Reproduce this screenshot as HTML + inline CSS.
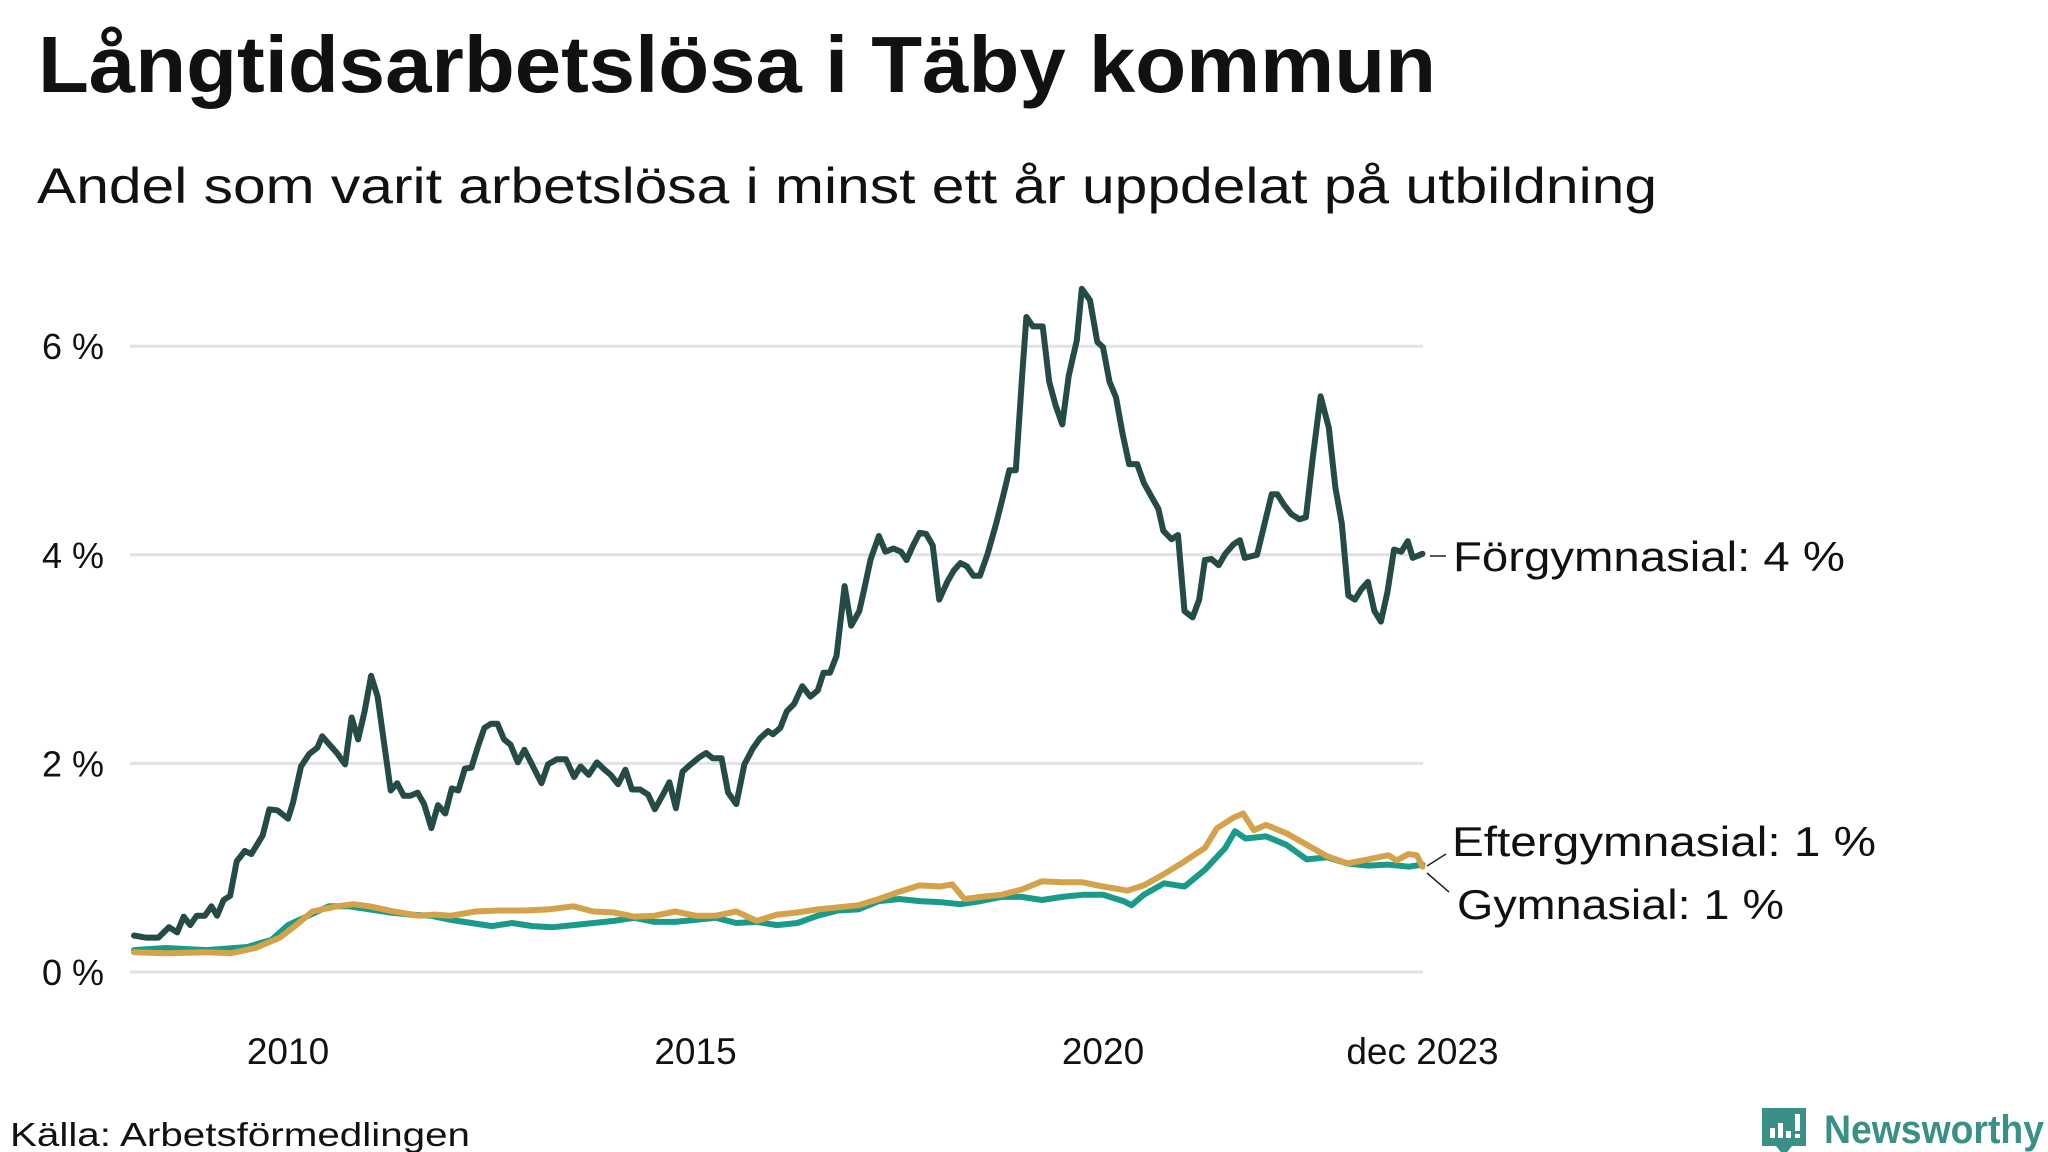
<!DOCTYPE html>
<html><head><meta charset="utf-8"><style>
html,body{margin:0;padding:0;background:#fff;}
svg{display:block;font-family:"Liberation Sans","DejaVu Sans",sans-serif;}
</style></head><body>
<svg id="chart" width="2048" height="1152" viewBox="0 0 2048 1152">
<text x="38" y="92" font-size="80" font-weight="bold" fill="#111" textLength="1398" lengthAdjust="spacingAndGlyphs">Långtidsarbetslösa i Täby kommun</text>
<text x="37" y="203" font-size="50" fill="#111" textLength="1620" lengthAdjust="spacingAndGlyphs">Andel som varit arbetslösa i minst ett år uppdelat på utbildning</text>
<g id="grid"></g>
<g id="yticks"></g>
<g id="xticks"></g>
<g id="lines"></g>
<g id="labels"></g>
<text x="10" y="1146" font-size="33" fill="#111" textLength="460" lengthAdjust="spacingAndGlyphs">Källa: Arbetsförmedlingen</text>
<g>
<path d="M1762 1108 h44 v38 h-14 l-8 10 l-8 -10 h-14 z" fill="#3a9086"/>
<rect x="1770" y="1128" width="5" height="10" fill="#fff"/><rect x="1778" y="1123" width="5" height="15" fill="#fff"/><rect x="1786" y="1131" width="5" height="7" fill="#fff"/><rect x="1795" y="1114" width="5" height="17" fill="#fff"/><rect x="1795" y="1134" width="5" height="4" fill="#fff"/>
<text x="1824" y="1143" font-size="40" font-weight="bold" fill="#3a9086" textLength="220" lengthAdjust="spacingAndGlyphs">Newsworthy</text>
</g>
</svg>
<script>
const yTicks = [0, 2, 4, 6];
const yTickLabels = ["0 %", "2 %", "4 %", "6 %"];
const xTicks = [2010, 2015, 2020, 2023.92];
const xTickLabels = ["2010", "2015", "2020", "dec 2023"];

const forDates = [2008.11,2008.25,2008.41,2008.54,2008.64,2008.72,2008.80,2008.88,2008.98,2009.06,2009.13,2009.21,2009.29,2009.37,2009.47,2009.55,2009.69,2009.77,2009.87,2010.00,2010.06,2010.16,2010.26,2010.36,2010.42,2010.60,2010.70,2010.78,2010.86,2010.94,2011.02,2011.10,2011.26,2011.34,2011.42,2011.50,2011.59,2011.67,2011.76,2011.84,2011.93,2012.01,2012.09,2012.17,2012.25,2012.33,2012.41,2012.49,2012.57,2012.65,2012.73,2012.82,2012.90,2012.98,2013.11,2013.19,2013.30,2013.41,2013.51,2013.59,2013.69,2013.79,2013.87,2013.96,2014.05,2014.14,2014.22,2014.32,2014.42,2014.50,2014.60,2014.68,2014.76,2014.84,2014.94,2015.05,2015.13,2015.21,2015.32,2015.40,2015.50,2015.60,2015.70,2015.79,2015.89,2015.95,2016.04,2016.12,2016.21,2016.31,2016.41,2016.50,2016.57,2016.65,2016.73,2016.83,2016.91,2017.01,2017.07,2017.15,2017.25,2017.33,2017.43,2017.52,2017.59,2017.67,2017.75,2017.83,2017.91,2017.99,2018.09,2018.17,2018.25,2018.33,2018.41,2018.49,2018.58,2018.69,2018.77,2018.85,2018.93,2019.01,2019.06,2019.14,2019.26,2019.34,2019.42,2019.50,2019.58,2019.68,2019.74,2019.84,2019.93,2020.00,2020.08,2020.16,2020.24,2020.32,2020.42,2020.50,2020.60,2020.68,2020.74,2020.84,2020.92,2021.00,2021.10,2021.18,2021.25,2021.33,2021.42,2021.50,2021.60,2021.68,2021.74,2021.89,2021.97,2022.07,2022.14,2022.22,2022.31,2022.41,2022.49,2022.57,2022.67,2022.77,2022.85,2022.93,2023.01,2023.09,2023.17,2023.25,2023.33,2023.41,2023.49,2023.57,2023.66,2023.74,2023.80,2023.92];
const forValues = [0.35,0.33,0.33,0.43,0.38,0.53,0.45,0.54,0.54,0.63,0.54,0.69,0.73,1.06,1.16,1.13,1.31,1.56,1.55,1.47,1.62,1.97,2.09,2.15,2.26,2.10,1.99,2.44,2.23,2.50,2.84,2.64,1.74,1.81,1.69,1.69,1.72,1.61,1.38,1.60,1.52,1.76,1.74,1.95,1.96,2.16,2.34,2.38,2.38,2.23,2.18,2.01,2.13,2.01,1.81,1.99,2.04,2.04,1.87,1.97,1.89,2.01,1.95,1.89,1.80,1.94,1.75,1.75,1.70,1.56,1.70,1.82,1.57,1.92,1.99,2.06,2.10,2.05,2.05,1.72,1.61,1.99,2.14,2.24,2.31,2.28,2.34,2.50,2.57,2.74,2.64,2.70,2.87,2.87,3.03,3.70,3.32,3.46,3.67,3.96,4.18,4.03,4.06,4.03,3.95,4.09,4.21,4.20,4.09,3.57,3.74,3.85,3.92,3.89,3.80,3.80,4.00,4.30,4.55,4.81,4.81,5.74,6.28,6.19,6.19,5.66,5.43,5.25,5.72,6.06,6.55,6.44,6.04,5.99,5.66,5.51,5.16,4.87,4.87,4.69,4.55,4.44,4.23,4.15,4.19,3.46,3.40,3.57,3.95,3.96,3.90,4.01,4.10,4.14,3.97,4.00,4.26,4.58,4.58,4.48,4.39,4.34,4.36,4.91,5.52,5.22,4.65,4.30,3.61,3.57,3.67,3.74,3.46,3.36,3.64,4.05,4.03,4.13,3.97,4.01];

const gymDates = [2008.11,2008.5,2009.0,2009.5,2009.8,2010.0,2010.25,2010.5,2010.75,2011.0,2011.25,2011.5,2011.75,2012.0,2012.25,2012.5,2012.75,2013.0,2013.25,2013.5,2013.75,2014.0,2014.25,2014.5,2014.75,2015.0,2015.25,2015.5,2015.75,2016.0,2016.25,2016.5,2016.75,2017.0,2017.25,2017.5,2017.75,2018.0,2018.25,2018.5,2018.75,2019.0,2019.25,2019.5,2019.75,2020.0,2020.25,2020.35,2020.5,2020.75,2021.0,2021.25,2021.5,2021.62,2021.75,2022.0,2022.25,2022.5,2022.75,2023.0,2023.25,2023.5,2023.75,2023.92];
const gymValues = [0.21,0.23,0.21,0.24,0.31,0.45,0.54,0.63,0.63,0.60,0.57,0.55,0.54,0.50,0.47,0.44,0.47,0.44,0.43,0.45,0.47,0.49,0.52,0.48,0.48,0.50,0.52,0.47,0.48,0.45,0.47,0.54,0.59,0.60,0.68,0.70,0.68,0.67,0.65,0.68,0.72,0.72,0.69,0.72,0.74,0.74,0.68,0.64,0.74,0.85,0.82,0.98,1.19,1.35,1.28,1.30,1.22,1.08,1.10,1.04,1.02,1.03,1.01,1.03];

const eftDates = [2008.11,2008.5,2009.0,2009.3,2009.6,2009.9,2010.1,2010.3,2010.6,2010.8,2011.0,2011.3,2011.6,2011.8,2012.0,2012.3,2012.6,2012.9,2013.2,2013.5,2013.75,2014.0,2014.25,2014.5,2014.75,2015.0,2015.25,2015.5,2015.75,2016.0,2016.25,2016.5,2016.75,2017.0,2017.25,2017.5,2017.75,2018.0,2018.15,2018.3,2018.5,2018.75,2019.0,2019.25,2019.5,2019.75,2020.0,2020.3,2020.5,2020.75,2021.0,2021.25,2021.4,2021.6,2021.72,2021.85,2022.0,2022.25,2022.5,2022.75,2023.0,2023.25,2023.5,2023.6,2023.75,2023.85,2023.92];
const eftValues = [0.19,0.18,0.19,0.18,0.23,0.33,0.45,0.58,0.63,0.65,0.63,0.58,0.54,0.55,0.54,0.58,0.59,0.59,0.60,0.63,0.58,0.57,0.53,0.54,0.58,0.54,0.54,0.58,0.49,0.55,0.57,0.60,0.62,0.64,0.70,0.77,0.83,0.82,0.84,0.70,0.72,0.74,0.79,0.87,0.86,0.86,0.82,0.78,0.83,0.94,1.06,1.19,1.38,1.48,1.52,1.36,1.41,1.33,1.22,1.11,1.04,1.08,1.12,1.07,1.13,1.12,1.01];

const NS = "http://www.w3.org/2000/svg";
const X0 = 288, PXYR = 81.5, Y0 = 972, PXPCT = 104.3;
function xScale(yr){ return X0 + (yr - 2010) * PXYR; }
function yScale(v){ return Y0 - v * PXPCT; }
function mk(tag, attrs, parent){ const e = document.createElementNS(NS, tag); for (const k in attrs) e.setAttribute(k, attrs[k]); parent.appendChild(e); return e; }

const grid = document.getElementById('grid');
const yt = document.getElementById('yticks');
yTicks.forEach((v, i) => {
  const l = mk('line', {x1: 130, x2: 1423, y1: yScale(v), y2: yScale(v), stroke: '#e2e2e6', 'stroke-width': 3}, grid);
  
  
  const t = mk('text', {x: 104, y: yScale(v) + 13, 'font-size': 36, fill: '#111', 'text-anchor': 'end'}, yt);
  t.textContent = yTickLabels[i];
  
  
});
const xt = document.getElementById('xticks');
xTicks.forEach((v, i) => {
  const t = mk('text', {x: xScale(v), y: 1064, 'font-size': 37, fill: '#111', 'text-anchor': 'middle'}, xt);
  t.textContent = xTickLabels[i];
  
  
});

const lines = document.getElementById('lines');
function drawLine(dates, vals, color, name){
  const d = dates.map((t, i) => (i ? 'L' : 'M') + xScale(t).toFixed(1) + ' ' + yScale(vals[i]).toFixed(1)).join(' ');
  const p = mk('path', {d: d, fill: 'none', stroke: color, 'stroke-width': 6, 'stroke-linejoin': 'round', 'stroke-linecap': 'round'}, lines);
  
  
}
drawLine(gymDates, gymValues, '#1a9b8a', 'line-gymnasial');
drawLine(eftDates, eftValues, '#d4a24a', 'line-eftergymnasial');
drawLine(forDates, forValues, '#244b45', 'line-forgymnasial');

const labels = document.getElementById('labels');
function lab(txt, x, y, w, name){
  const t = mk('text', {x: x, y: y, 'font-size': 42, fill: '#111', textLength: w, lengthAdjust: 'spacingAndGlyphs'}, labels);
  t.textContent = txt;
  
  
}
const c1 = mk('line', {x1: 1430, x2: 1446, y1: 556, y2: 556, stroke: '#222', 'stroke-width': 1.5}, labels);


const c2 = mk('line', {x1: 1427, x2: 1446, y1: 866, y2: 854, stroke: '#222', 'stroke-width': 1.5}, labels);


const c3 = mk('line', {x1: 1427, x2: 1449, y1: 873, y2: 892, stroke: '#222', 'stroke-width': 1.5}, labels);


lab('Förgymnasial: 4 %', 1453, 571, 392, 'label-forgymnasial');
lab('Eftergymnasial: 1 %', 1452, 856, 424, 'label-eftergymnasial');
lab('Gymnasial: 1 %', 1457, 919, 327, 'label-gymnasial');
</script>
</body></html>
